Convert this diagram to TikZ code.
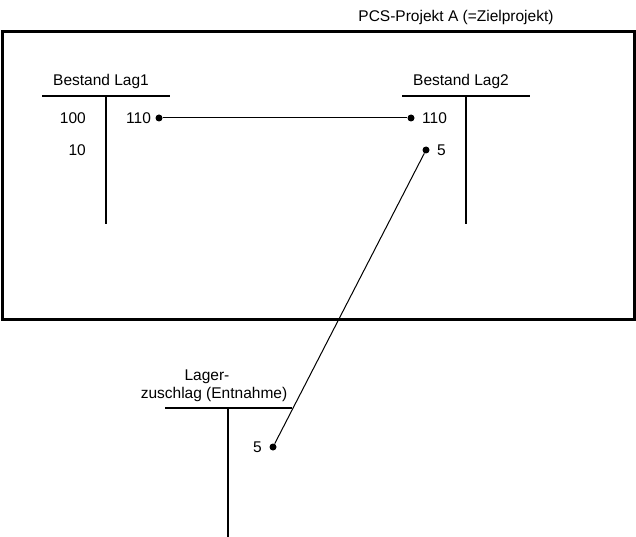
\documentclass[tikz,border=0pt]{standalone}
\usepackage{fontspec}
\setmainfont{Liberation Sans}
\begin{document}
\begin{tikzpicture}[x=1pt,y=-1pt,
  lbl/.style={font=\fontsize{15.5}{18}\selectfont, inner sep=0pt},
  dot/.style={circle, fill=black, inner sep=0pt, minimum size=7pt},
  tbar/.style={line width=2.2pt},
  conn/.style={line width=1pt}]
\useasboundingbox (0,0) rectangle (636,537);
% frame
\node[draw, line width=3pt, outer sep=0pt, inner sep=0pt, minimum width=632pt, minimum height=287.5pt, anchor=north west] (frame) at (2,31.5) {};
\node[lbl, anchor=base] (title) at (456,22) {PCS-Projekt A (=Zielprojekt)};
% Bestand Lag1
\node[lbl, anchor=base] (lag1) at (101,86) {Bestand Lag1};
\coordinate (l1a) at (42,96); \coordinate (l1b) at (170,96);
\coordinate (l1t) at (106,96); \coordinate (l1e) at (106,224);
\draw[tbar] (l1a) -- (l1b);
\draw[tbar] (l1t) -- (l1e);
\node[lbl, anchor=base east] (v100) at (86,123.5) {100};
\node[lbl, anchor=base east] (v10) at (86,155.5) {10};
\node[lbl, anchor=base west] (v110a) at (126,123.5) {110};
\node[dot] (d1) at (159,118) {};
% Bestand Lag2
\node[lbl, anchor=base] (lag2) at (461,86) {Bestand Lag2};
\coordinate (l2a) at (402,96); \coordinate (l2b) at (530,96);
\coordinate (l2t) at (466,96); \coordinate (l2e) at (466,224);
\draw[tbar] (l2a) -- (l2b);
\draw[tbar] (l2t) -- (l2e);
\node[dot] (d2) at (411,118) {};
\node[lbl, anchor=base west] (v110b) at (422,123.5) {110};
\node[dot] (d3) at (426,150) {};
\node[lbl, anchor=base west] (v5b) at (437,155.5) {5};
% Lagerzuschlag
\node[lbl, anchor=base] (lz1) at (207,380) {Lager-};
\node[lbl, anchor=base] (lz2) at (214,398) {zuschlag (Entnahme)};
\coordinate (l3a) at (165,408); \coordinate (l3b) at (292,408);
\coordinate (l3t) at (228,408); \coordinate (l3e) at (228,537);
\draw[tbar] (l3a) -- (l3b);
\draw[tbar] (l3t) -- (l3e);
\node[lbl, anchor=base east] (v5c) at (262,452.5) {5};
\node[dot] (d4) at (273,447) {};
% connectors
\draw[conn] (d1) -- (d2);
\draw[conn] (d4) -- (d3);
\end{tikzpicture}
\end{document}
